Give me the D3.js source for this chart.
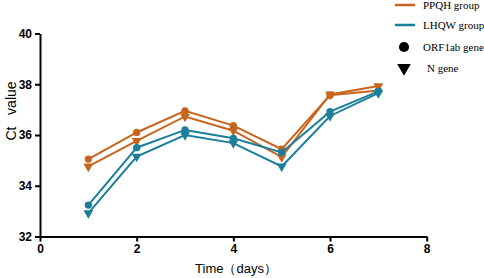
<!DOCTYPE html>
<html>
<head>
<meta charset="utf-8">
<script src="https://cdn.jsdelivr.net/npm/d3@7"></script>
<style>
  body { margin: 0; background: #fff; }
  svg { display: block; }
</style>
</head>
<body>
<div id="chart"></div>
<script>
const days = [1, 2, 3, 4, 5, 6, 7];
const ppqhOrf = [35.05, 36.1, 36.95, 36.37, 35.44, 37.57, 37.75];
const ppqhN = [34.76, 35.77, 36.73, 36.17, 35.13, 37.6, 37.93];
const lhqwOrf = [33.24, 35.5, 36.2, 35.87, 35.31, 36.92, 37.72];
const lhqwN = [32.92, 35.15, 36.0, 35.68, 34.76, 36.75, 37.65];
const xTicks = [0, 2, 4, 6, 8];
const yTicks = [32, 34, 36, 38, 40];

const orange = "#c8641c";
const teal = "#1b7f9b";

const series = [
    { name: "PPQH ORF1ab", values: ppqhOrf, color: orange, shape: "circle" },
    { name: "PPQH N", values: ppqhN, color: orange, shape: "triangle" },
    { name: "LHQW ORF1ab", values: lhqwOrf, color: teal, shape: "circle" },
    { name: "LHQW N", values: lhqwN, color: teal, shape: "triangle" }
];

const width = 484, height = 278;

const svg = d3.select("#chart").append("svg")
    .attr("width", width)
    .attr("height", height);

const x = d3.scaleLinear().domain([0, 8]).range([40, 426.7]);
const y = d3.scaleLinear().domain([32, 40]).range([236.5, 33.5]);

// axes
const xAxis = svg.append("g")
    .attr("transform", `translate(0,${y(32)})`)
    .call(d3.axisBottom(x).tickValues(xTicks).tickSize(5).tickPadding(3).tickSizeOuter(0));
const yAxis = svg.append("g")
    .attr("transform", `translate(${x(0)},0)`)
    .call(d3.axisLeft(y).tickValues(yTicks).tickSize(5).tickPadding(3).tickSizeOuter(0));

[xAxis, yAxis].forEach(g => {
    g.select(".domain").attr("stroke", "#000").attr("stroke-width", 2);
    g.selectAll(".tick line").attr("stroke", "#000").attr("stroke-width", 2);
    g.selectAll(".tick text")
        .attr("fill", "#000")
        .style("font-family", "Liberation Sans, Arial, sans-serif")
        .style("font-size", "12px")
        .style("font-weight", "bold");
});

// axis titles
svg.append("text")
    .attr("transform", "translate(16,111) rotate(-90)")
    .attr("text-anchor", "middle")
    .style("font-family", "Liberation Sans, Arial, sans-serif")
    .style("font-size", "14px")
    .text("Ct\u00a0\u00a0\u00a0value");

svg.append("text")
    .attr("x", 236)
    .attr("y", 273)
    .attr("text-anchor", "middle")
    .style("font-family", "Liberation Sans, Arial, sans-serif")
    .style("font-size", "13px")
    .text("Time（days）");

// lines + markers
const line = d3.line()
    .x((d, i) => x(days[i]))
    .y(d => y(d));

const circleSym = d3.symbol().type(d3.symbolCircle).size(42);
const triSym = d3.symbol().type(d3.symbolTriangle).size(42);

series.forEach(s => {
    svg.append("path")
        .datum(s.values)
        .attr("fill", "none")
        .attr("stroke", s.color)
        .attr("stroke-width", 2)
        .attr("d", line);

    svg.append("g")
        .selectAll("path")
        .data(s.values)
        .join("path")
        .attr("transform", (d, i) => `translate(${x(days[i])},${y(d)})` + (s.shape === "triangle" ? " rotate(180)" : ""))
        .attr("d", s.shape === "triangle" ? triSym : circleSym)
        .attr("fill", s.color);
});

// legend
const legend = svg.append("g")
    .style("font-family", "Liberation Serif, Times New Roman, serif")
    .style("font-size", "11px");

const legendItems = [
    { label: "PPQH group", type: "line", color: orange, yy: 5 },
    { label: "LHQW group", type: "line", color: teal, yy: 25 },
    { label: "ORF1ab gene", type: "circle", color: "#000", yy: 47 },
    { label: "N gene", type: "triangle", color: "#000", yy: 68 }
];

legendItems.forEach(d => {
    if (d.type === "line") {
        legend.append("line")
            .attr("x1", 395).attr("x2", 415)
            .attr("y1", d.yy).attr("y2", d.yy)
            .attr("stroke", d.color)
            .attr("stroke-width", 2.5);
    } else {
        legend.append("path")
            .attr("transform", `translate(404,${d.yy})` + (d.type === "triangle" ? " rotate(180)" : ""))
            .attr("d", d3.symbol().type(d.type === "triangle" ? d3.symbolTriangle : d3.symbolCircle).size(80))
            .attr("fill", d.color);
    }
    legend.append("text")
        .attr("x", d.type === "triangle" ? 427 : 423)
        .attr("y", d.yy)
        .attr("dy", "0.35em")
        .text(d.label);
});
</script>
</body>
</html>
